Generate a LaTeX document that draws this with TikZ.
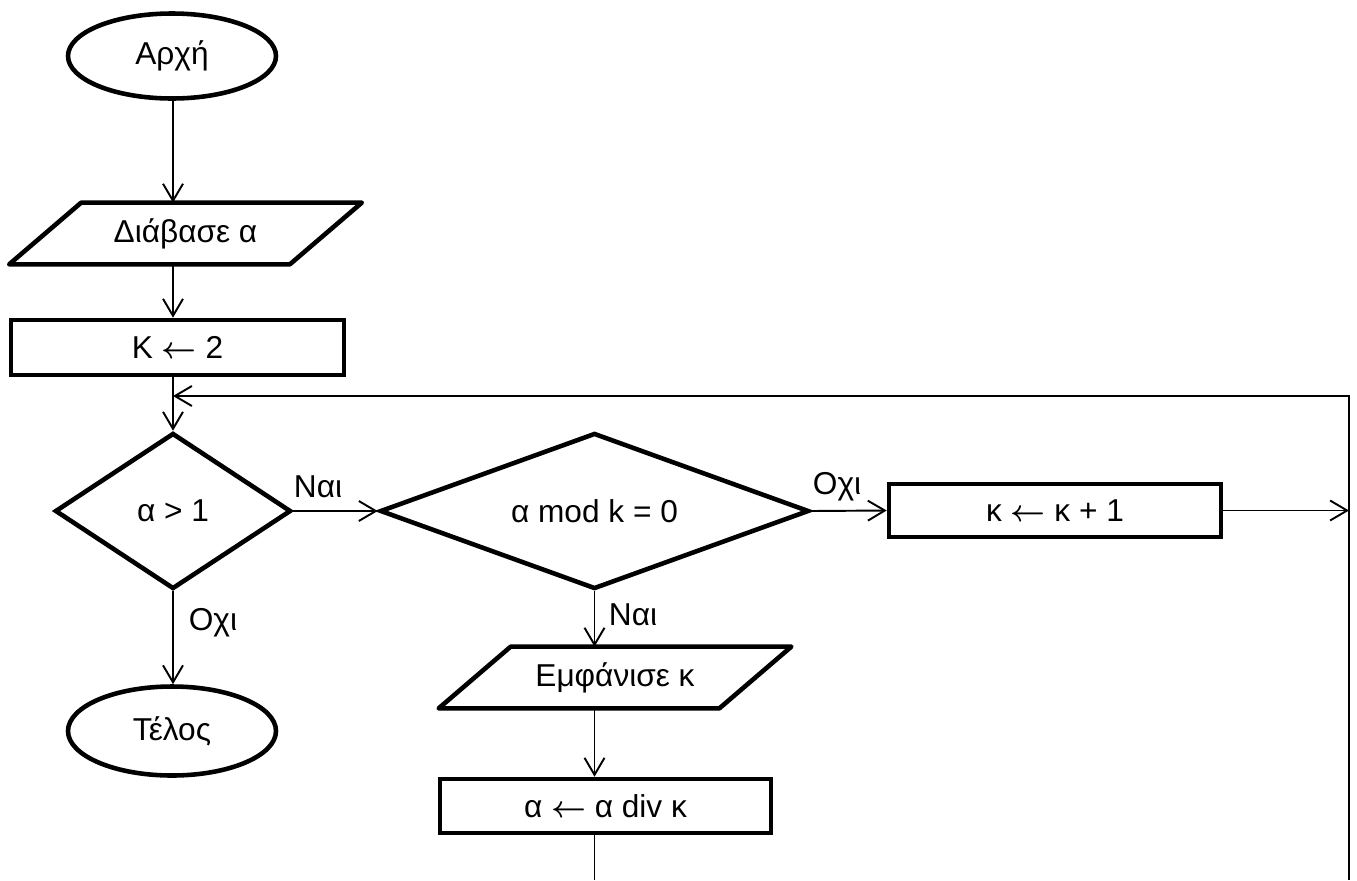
\documentclass[tikz,border=0pt]{standalone}
\usepackage{amsmath}
\usepackage{fontspec}
\setmainfont{Liberation Sans}
\usetikzlibrary{arrows.meta, shapes.geometric}
\newcommand{\assign}{\ensuremath{\boldsymbol{\leftarrow}}}

\begin{document}
\begin{tikzpicture}[
  font=\fontsize{18}{22}\selectfont,
  terminal/.style={draw, ellipse, line width=2.6pt, minimum width=4.16cm, minimum height=1.70cm, inner sep=0pt},
  io/.style={rectangle, minimum width=5.6cm, minimum height=1.22cm, inner sep=0pt},
  ioline/.style={line width=2.6pt, line join=round},
  process/.style={draw, rectangle, line width=2.6pt, minimum width=6.64cm, minimum height=1.08cm, inner sep=0pt},
  test/.style={draw, diamond, line width=2.6pt, minimum height=3.12cm, inner sep=0pt},
  flow/.style={-{Straight Barb[length=3.4mm, width=4mm]}, line width=1.1pt},
  wire/.style={line width=1.1pt},
  lbl/.style={inner sep=0pt}
]
\useasboundingbox (0,0) rectangle (27.14,-17.6);

% --- main column ---
\node[terminal] (start) at (3.44,-1.12) {Αρχή};
\node[io] (read) at (3.71,-4.67) {Διάβασε α};
\node[process, minimum width=6.66cm, minimum height=1.10cm] (init) at (3.55,-6.95) {K \assign{} 2};
\node[test, minimum width=4.72cm, aspect=1.5] (cond1) at (3.46,-10.22) {α > 1};
\node[terminal, minimum height=1.78cm] (stop) at (3.44,-14.62) {Τέλος};

% --- inner test and its branches ---
\node[test, minimum width=8.58cm, aspect=2.7] (cond2) at (11.89,-10.22) {α mod k = 0};
\node[process, minimum height=1.06cm] (incr) at (21.10,-10.21) {κ \assign{} κ + 1};
\node[io] (show) at (12.30,-13.55) {Εμφάνισε κ};
\node[process, minimum width=6.62cm] (divide) at (12.11,-16.12) {α \assign{} α div κ};

% parallelogram outlines round the io nodes
\foreach \n in {read, show}
  \draw[ioline] ([xshift=7.2mm]\n.north west) -- ([xshift=7.2mm]\n.north east)
    -- ([xshift=-7.2mm]\n.south east) -- ([xshift=-7.2mm]\n.south west) -- cycle;

% loop corners
\coordinate (corner) at (26.98,-7.92);
\coordinate (rbot) at (26.98,-17.6);
\coordinate (dbot) at (11.89,-17.6);

% --- labels ---
\node[lbl] (yes1) at (6.36,-9.74) {Ναι};
\node[lbl] (no1) at (4.26,-12.46) {Οχι};
\node[lbl] (yes2) at (12.66,-12.30) {Ναι};
\node[lbl] (no2) at (16.74,-9.74) {Οχι};

% --- connectors ---
\draw[flow] (start.south -| cond1) -- (read.north -| cond1);
\draw[flow] (read.south -| cond1) -- (init.north -| cond1);
\draw[flow] (init.south -| cond1) -- (cond1.north);
\draw[flow] (cond1.south) -- (stop.north -| cond1);
\draw[flow] (cond1.east) -- (cond2.west);
\draw[flow] (cond2.east) -- (incr.west);
\draw[flow] (cond2.south) -- (show.north -| cond2);
\draw[flow] (show.south -| cond2) -- (divide.north -| cond2);
\draw[wire] (divide.south -| cond2) -- (dbot);
\draw[flow] (incr.east) -- (incr.east -| corner);
\draw[flow] (rbot) -- (corner) -- (corner -| cond1);

\end{tikzpicture}
\end{document}
